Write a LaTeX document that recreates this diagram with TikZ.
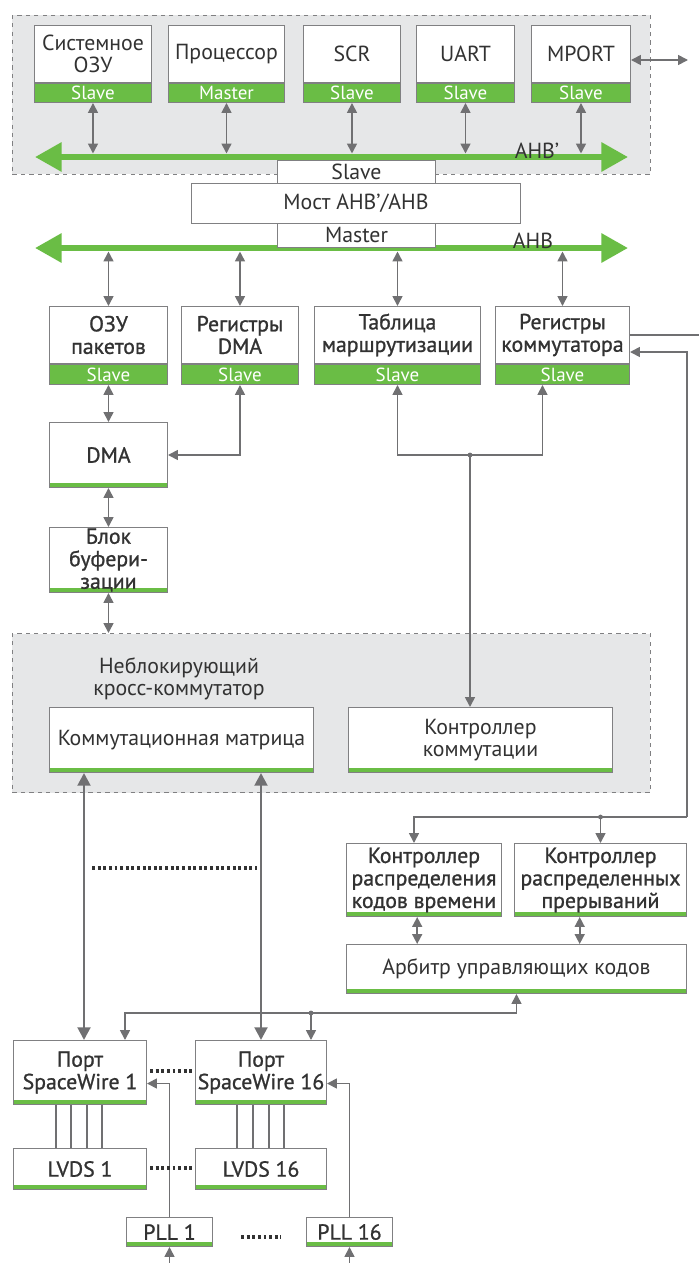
\documentclass[tikz,border=0pt]{standalone}
\usepackage{fontspec}
\setmainfont{PT Sans}
\newfontfamily\semib[FakeBold=1]{PT Sans}
\usetikzlibrary{arrows.meta}

\definecolor{swgreen}{RGB}{106,189,69}
\definecolor{swfill}{RGB}{230,231,232}
\definecolor{swline}{RGB}{112,112,114}
\definecolor{swedge}{RGB}{128,128,130}
\definecolor{swtext}{RGB}{50,50,50}

\tikzset{
  px/.style 2 args={minimum width=#1*0.025cm, minimum height=#2*0.025cm},
  txt/.style={font=\fontsize{15.5}{16}\selectfont},
  stxt/.style={font=\semib\fontsize{15.5}{16}\selectfont},
  blk/.style={draw=swedge, fill=white, line width=0.7pt, inner sep=0pt, anchor=north west, align=center, text=swtext, txt},
  band/.style={blk, fill=swgreen, text=white, font=\fontsize{13.5}{13.5}\selectfont},
  gline/.style={path picture={\fill[swgreen] ([yshift=0.35pt]path picture bounding box.south west) rectangle ([yshift=3pt]path picture bounding box.south east);}},
  grp/.style={draw=swedge, dashed, fill=swfill, line width=0.7pt, inner sep=0pt, anchor=north west},
  wire/.style={draw=swline, line width=1.2pt},
  link/.style={wire, -{Triangle[length=7pt,width=7pt]}},
  dlink/.style={wire, {Triangle[length=7pt,width=7pt]}-{Triangle[length=7pt,width=7pt]}},
  tlink/.style={draw=swline, line width=2pt, {Triangle[length=9pt,width=9pt]}-{Triangle[length=9pt,width=9pt]}},
  bus/.style={draw=swgreen, line width=4.3pt, {Triangle[length=19pt,width=20pt]}-{Triangle[length=19pt,width=20pt]}},
  dots/.style={draw=swtext, line width=2.3pt, dash pattern=on 2.1pt off 1.9pt},
  jdot/.style={circle, fill=swline, inner sep=0pt, minimum size=3.4pt},
  lbl/.style={text=swtext, txt, inner sep=0pt, align=center},
}

\begin{document}
\begin{tikzpicture}[x=0.025cm,y=-0.025cm]
  \useasboundingbox (0,0) rectangle (699,1263);

  % groups
  \node[grp, px={638}{159}] (top) at (12,15) {};
  \node[grp, px={638}{159}] (xbar) at (12,633) {};

  % AHB' devices
  \node[blk, px={117}{57}] (sram) at (34,25) {Системное\\ОЗУ};
  \node[band, px={117}{19}] (sramb) at (sram.south west) {Slave};
  \node[blk, px={116}{57}] (cpu) at (168,25) {Процессор};
  \node[band, px={116}{19}] (cpub) at (cpu.south west) {Master};
  \node[blk, px={97}{57}] (scr) at (303,25) {SCR};
  \node[band, px={97}{19}] (scrb) at (scr.south west) {Slave};
  \node[blk, px={98}{57}] (uart) at (416,25) {UART};
  \node[band, px={98}{19}] (uartb) at (uart.south west) {Slave};
  \node[blk, px={99}{57}] (mport) at (531,25) {MPORT};
  \node[band, px={99}{19}] (mportb) at (mport.south west) {Slave};
  \coordinate (mext) at (688,60);

  % AHB devices
  \node[blk, px={118}{57}, stxt] (pram) at (49,306) {ОЗУ\\пакетов};
  \node[band, px={118}{20}] (pramb) at (pram.south west) {Slave};
  \node[blk, px={117}{57}, stxt] (dreg) at (181,306) {Регистры\\DMA};
  \node[band, px={117}{20}] (dregb) at (dreg.south west) {Slave};
  \node[blk, px={166}{57}, stxt] (rtab) at (314,306) {Таблица\\маршрутизации};
  \node[band, px={166}{20}] (rtabb) at (rtab.south west) {Slave};
  \node[blk, px={134}{57}, stxt] (sreg) at (495,306) {Регистры\\коммутатора};
  \node[band, px={134}{20}] (sregb) at (sreg.south west) {Slave};

  \node[blk, gline, px={118}{65}, stxt] (dma) at (49,422) {DMA};
  \node[blk, gline, px={118}{65}, stxt] (buf) at (49,527) {Блок\\буфери-\\зации};

  % crossbar
  \node[lbl] (xbart) at (179,679) {Неблокирующий\\кросс-коммутатор};
  \node[blk, gline, px={264}{65}] (mat) at (49,707) {Коммутационная матрица};
  \node[blk, gline, px={264}{65}] (ctl) at (348,707) {Контроллер\\коммутации};

  % control codes
  \node[blk, gline, px={155}{73}, stxt] (ctd) at (346,843) {Контроллер\\распределения\\кодов времени};
  \node[blk, gline, px={172}{73}, stxt] (cti) at (514,843) {Контроллер\\распределенных\\прерываний};
  \node[blk, gline, px={340}{49}] (arb) at (346,944) {Арбитр управляющих кодов};

  % ports
  \node[blk, gline, px={133}{64}, stxt] (p1) at (13,1040) {Порт\\SpaceWire 1};
  \node[blk, gline, px={131}{64}, stxt] (p16) at (195,1040) {Порт\\SpaceWire 16};
  \node[blk, gline, px={133}{41}, stxt] (l1) at (13,1148) {LVDS 1};
  \node[blk, gline, px={131}{41}, stxt] (l16) at (195,1148) {LVDS 16};
  \node[blk, gline, px={86}{29}, stxt] (pll1) at (126,1217) {PLL 1};
  \node[blk, gline, px={86}{29}, stxt] (pll16) at (306,1217) {PLL 16};

  % bus links
  \coordinate (busa) at (35,157);
  \coordinate (busae) at (628,157);
  \coordinate (busb) at (35,248);
  \coordinate (busbe) at (628,248);
  \foreach \n in {sramb,cpub,scrb,uartb,mportb}
    \draw[dlink, shorten >=2.5pt] (\n.south) -- (\n.south |- busa);
  \foreach \n in {pram,dreg,rtab,sreg}
    \draw[dlink, shorten <=2.5pt] (\n |- busb) -- (\n.north);
  \draw[dlink] (mport.east |- mext) -- (mext);
  \draw[bus] (busa) -- (busae);
  \draw[bus] (busb) -- (busbe);

  % bridge
  \node[blk, px={158}{23}] (brs) at (277,160) {Slave};
  \node[blk, px={329}{40}] (brg) at (191,183) {Мост AHB’/AHB};
  \node[blk, px={158}{24}] (brm) at (277,223) {Master};
  \node[lbl] (ahbp) at (537,151) {AHB’};
  \node[lbl] (ahb) at (533,241) {AHB};

  % DMA path
  \draw[dlink] (pramb.south) -- (dma.north);
  \draw[dlink] (dregb.south) |- (dma.east);
  \draw[dlink] (dma.south) -- (buf.north);
  \draw[dlink] (buf.south) -- (buf.south |- xbar.north);

  % routing table and switch registers
  \coordinate (rj) at (470,455);
  \draw[link] (rj) -| (rtabb.south);
  \draw[link] (rj) -| ([xshift=-0.5cm]sregb.south);
  \draw[link] (rj) -- (rj |- ctl.north);
  \node[jdot] (rjd) at (rj) {};

  \coordinate (rout) at (699,334);
  \draw[wire] (sreg.east) -- (sreg.east -| rout);
  \coordinate (rc) at (687,817);
  \coordinate (rin) at (687,352);
  \coordinate (rd) at (414,817);
  \draw[link] (rc) -- (rin) -- (rin -| sreg.east);
  \draw[link] (rc) -- (rd) -- (rd |- ctd.north);
  \draw[link] (cti.north |- rc) -- (cti.north);
  \node[jdot] (rcd) at (cti.north |- rc) {};
  \draw[dlink] ([xshift=-0.17cm]ctd.south) -- ([xshift=-0.17cm]ctd.south |- arb.north);
  \draw[dlink] ([xshift=-0.52cm]cti.south) -- ([xshift=-0.52cm]cti.south |- arb.north);

  % arbiter to ports
  \coordinate (pj) at (311,1013);
  \coordinate (pl) at (125,1013);
  \draw[dlink] (arb.south) -- (arb.south |- pj) -- (pl) -- (pl |- p1.north);
  \draw[link] (pj) -- (pj |- p16.north);
  \node[jdot] (pjd) at (pj) {};

  % matrix to ports
  \coordinate (t1) at (84,0);
  \coordinate (t16) at (261,0);
  \draw[tlink] (mat.south -| t1) -- (p1.north -| t1);
  \draw[tlink] (mat.south -| t16) -- (p16.north -| t16);
  \draw[dots] (92,868) -- (257,868);

  % LVDS and PLL
  \foreach \x in {56,71,87,102}
    \draw[wire, line width=0.9pt] (p1.south -| \x,0) -- (l1.north -| \x,0);
  \foreach \x in {237,253,269,284}
    \draw[wire, line width=0.9pt] (p16.south -| \x,0) -- (l16.north -| \x,0);
  \draw[link] (pll1.north) |- ([yshift=-0.275cm]p1.east);
  \draw[link] (pll16.north) |- ([yshift=-0.275cm]p16.east);
  \draw[link] (pll1.south |- 0,1263) -- (pll1.south);
  \draw[link] (pll16.south |- 0,1263) -- (pll16.south);
  \draw[dots] (150,1071) -- (192,1071);
  \draw[dots] (150,1168) -- (192,1168);
  \draw[dots] (241,1237) -- (281,1237);
\end{tikzpicture}
\end{document}
